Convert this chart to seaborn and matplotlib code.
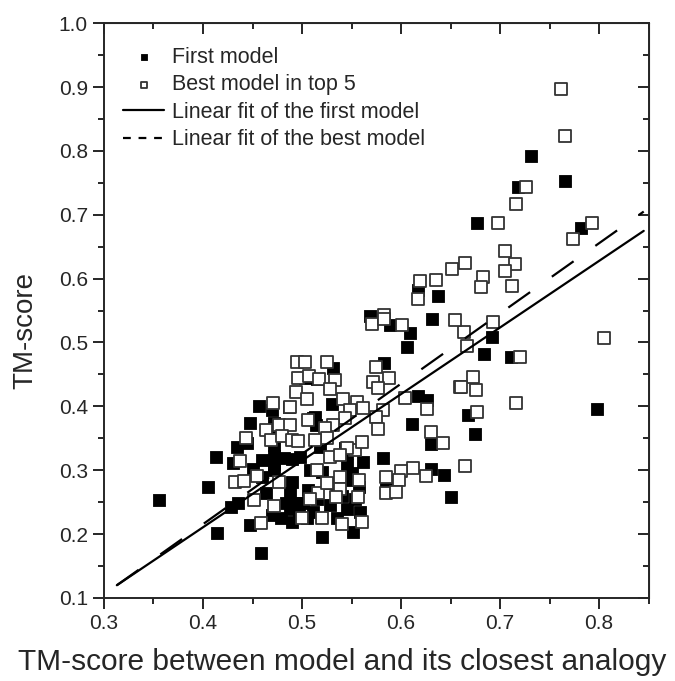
import matplotlib
matplotlib.use("Agg")
import matplotlib.pyplot as plt
from matplotlib.lines import Line2D
from matplotlib.ticker import MultipleLocator
import numpy as np
import pandas as pd
import seaborn as sns

# first model (filled squares)
first_x = [0.356, 0.405, 0.414, 0.413, 0.457, 0.447, 0.434, 0.444, 0.430, 0.428,
           0.435, 0.447, 0.459, 0.450, 0.460, 0.460, 0.464, 0.470,
           0.472, 0.472, 0.472, 0.472, 0.472, 0.472,
           0.482, 0.490, 0.488, 0.484, 0.470, 0.479, 0.490, 0.488, 0.494,
           0.609, 0.606, 0.583, 0.531, 0.503, 0.515, 0.530, 0.513, 0.487, 0.611,
           0.617, 0.626, 0.668, 0.675, 0.630, 0.582, 0.562, 0.630, 0.643, 0.650,
           0.585, 0.559, 0.551, 0.520,
           0.506, 0.501, 0.511, 0.528, 0.508, 0.520, 0.545, 0.550, 0.550, 0.558,
           0.545, 0.543, 0.511, 0.514, 0.518, 0.498, 0.490,
           0.535, 0.540, 0.553, 0.525, 0.515, 0.497, 0.505, 0.535, 0.545,
           0.731, 0.766, 0.718, 0.677, 0.782, 0.692, 0.684, 0.711, 0.798,
           0.617, 0.637, 0.569, 0.589, 0.631]
first_y = [0.254, 0.274, 0.202, 0.321, 0.401, 0.374, 0.336, 0.343, 0.311, 0.243,
           0.249, 0.214, 0.171, 0.302, 0.316, 0.290, 0.264, 0.394,
           0.374, 0.355, 0.340, 0.322, 0.310, 0.300,
           0.319, 0.282, 0.264, 0.249, 0.230, 0.225, 0.219, 0.240, 0.249,
           0.515, 0.493, 0.468, 0.460, 0.444, 0.443, 0.404, 0.383, 0.399, 0.372,
           0.416, 0.410, 0.387, 0.357, 0.341, 0.319, 0.313, 0.302, 0.293, 0.258,
           0.277, 0.235, 0.203, 0.196,
           0.269, 0.249, 0.235, 0.246, 0.300, 0.297, 0.308, 0.296, 0.285, 0.274,
           0.327, 0.335, 0.382, 0.370, 0.336, 0.321, 0.318,
           0.270, 0.260, 0.255, 0.280, 0.255, 0.235, 0.225, 0.225, 0.240,
           0.792, 0.753, 0.743, 0.687, 0.679, 0.509, 0.482, 0.478, 0.396,
           0.582, 0.573, 0.541, 0.527, 0.537]

# best model in top 5 (open squares)
best_x = [0.471, 0.488, 0.494, 0.464, 0.443, 0.437, 0.432, 0.441, 0.455, 0.452,
          0.459, 0.472, 0.477, 0.477, 0.488, 0.469, 0.480, 0.490, 0.495, 0.496,
          0.503, 0.525, 0.507, 0.517, 0.533, 0.528, 0.505, 0.541, 0.556, 0.562,
          0.548, 0.575, 0.588, 0.572, 0.577, 0.604, 0.582, 0.575, 0.577, 0.626,
          0.630, 0.642, 0.659, 0.673, 0.676, 0.677, 0.665, 0.612, 0.625, 0.600,
          0.598, 0.585, 0.585, 0.595, 0.557, 0.561, 0.540, 0.520, 0.500, 0.553,
          0.545, 0.561, 0.543, 0.531, 0.523, 0.525, 0.513, 0.506, 0.496, 0.528,
          0.538, 0.515, 0.538, 0.558, 0.538, 0.516, 0.508, 0.534, 0.525,
          0.761, 0.766, 0.726, 0.716, 0.698, 0.793, 0.774, 0.705, 0.715, 0.705,
          0.665, 0.683, 0.681, 0.712, 0.693, 0.664, 0.667, 0.720, 0.805, 0.661,
          0.716, 0.651, 0.635, 0.619, 0.617, 0.571, 0.583, 0.583, 0.601, 0.654]
best_y = [0.405, 0.399, 0.423, 0.363, 0.350, 0.315, 0.282, 0.283, 0.291, 0.254,
          0.218, 0.244, 0.282, 0.371, 0.371, 0.347, 0.354, 0.347, 0.470, 0.445,
          0.470, 0.469, 0.447, 0.443, 0.441, 0.427, 0.411, 0.411, 0.406, 0.397,
          0.395, 0.462, 0.445, 0.438, 0.429, 0.413, 0.395, 0.383, 0.365, 0.396,
          0.360, 0.343, 0.430, 0.446, 0.425, 0.391, 0.307, 0.303, 0.291, 0.299,
          0.285, 0.290, 0.264, 0.266, 0.258, 0.219, 0.216, 0.225, 0.225, 0.332,
          0.335, 0.344, 0.382, 0.371, 0.366, 0.350, 0.348, 0.379, 0.345, 0.321,
          0.324, 0.300, 0.290, 0.285, 0.270, 0.264, 0.255, 0.258, 0.280,
          0.897, 0.823, 0.743, 0.717, 0.687, 0.687, 0.662, 0.643, 0.623, 0.612,
          0.624, 0.603, 0.587, 0.588, 0.532, 0.516, 0.494, 0.478, 0.507, 0.431,
          0.405, 0.615, 0.598, 0.596, 0.568, 0.529, 0.543, 0.536, 0.527, 0.535]

# linear fits (slope, intercept) and fitted x range
fit_first = (1.043, -0.2066)
fit_best = (1.100, -0.2245)
fit_range = [0.313, 0.845]

labels = ['First model', 'Best model in top 5',
          'Linear fit of the first model', 'Linear fit of the best model']

df_first = pd.DataFrame({'x': first_x, 'y': first_y})
df_best = pd.DataFrame({'x': best_x, 'y': best_y})
xs = np.array(fit_range)
df_fit = pd.DataFrame({'x': xs,
                       'y1': fit_first[0] * xs + fit_first[1],
                       'y2': fit_best[0] * xs + fit_best[1]})

sns.set_style("ticks")
plt.rcParams['font.family'] = ['Liberation Sans', 'DejaVu Sans']

fig = plt.figure(figsize=(6.75, 6.81), dpi=100)
ax = fig.add_axes([0.154, 0.122, 0.807, 0.844])

sns.scatterplot(data=df_first, x='x', y='y', ax=ax, marker='s', s=70,
                color='black', edgecolor='black', linewidth=0.6,
                label=labels[0], zorder=2)
sns.scatterplot(data=df_best, x='x', y='y', ax=ax, marker='s', s=70,
                facecolor='white', edgecolor='#333333', linewidth=1.3,
                label=labels[1], zorder=3)
sns.lineplot(data=df_fit, x='x', y='y1', ax=ax, color='black', lw=1.6,
             label=labels[2], zorder=4)
sns.lineplot(data=df_fit, x='x', y='y2', ax=ax, color='black', lw=1.6,
             dashes=(12, 12), label=labels[3], zorder=4)

ax.set_xlim(0.3, 0.85)
ax.set_ylim(0.1, 1.0)
ax.xaxis.set_minor_locator(MultipleLocator(0.05))
ax.yaxis.set_major_locator(MultipleLocator(0.1))
ax.yaxis.set_minor_locator(MultipleLocator(0.05))
ax.set_xticks([0.3, 0.4, 0.5, 0.6, 0.7, 0.8])
ax.set_xticklabels(['0.3', '0.4', '0.5', '0.6', '0.7', '0.8'])
ax.tick_params(which='major', direction='out', length=8, width=1.4, labelsize=15)
ax.tick_params(which='minor', direction='out', length=4.3, width=1.4)
for sp in ax.spines.values():
    sp.set_linewidth(1.4)
    sp.set_visible(True)

# inward ticks on top and right
top = ax.secondary_xaxis('top')
top.xaxis.set_major_locator(MultipleLocator(0.1))
top.xaxis.set_minor_locator(MultipleLocator(0.05))
top.tick_params(which='major', direction='in', length=8, width=1.4, labeltop=False)
top.tick_params(which='minor', direction='in', length=4, width=1.4)
right = ax.secondary_yaxis('right')
right.yaxis.set_major_locator(MultipleLocator(0.1))
right.yaxis.set_minor_locator(MultipleLocator(0.05))
right.tick_params(which='major', direction='in', length=8, width=1.4, labelright=False)
right.tick_params(which='minor', direction='in', length=4, width=1.4)

ax.set_xlabel('TM-score between model and its closest analogy', fontsize=21.5)
ax.xaxis.set_label_coords(0.437, -0.087)
ax.set_ylabel('TM-score', fontsize=20)
ax.yaxis.set_label_coords(-0.12, 0.466)

handles, _ = ax.get_legend_handles_labels()
handles[3] = Line2D([], [], color='black', lw=1.6, dashes=(3.5, 3.5))
ax.legend(handles, labels, loc='upper left', frameon=False, fontsize=15.5,
          markerscale=0.6, handlelength=1.9, handletextpad=0.35,
          labelspacing=0.3, borderaxespad=0.3, bbox_to_anchor=(0.008, 0.985))

fig.savefig('out.png', dpi=100)
